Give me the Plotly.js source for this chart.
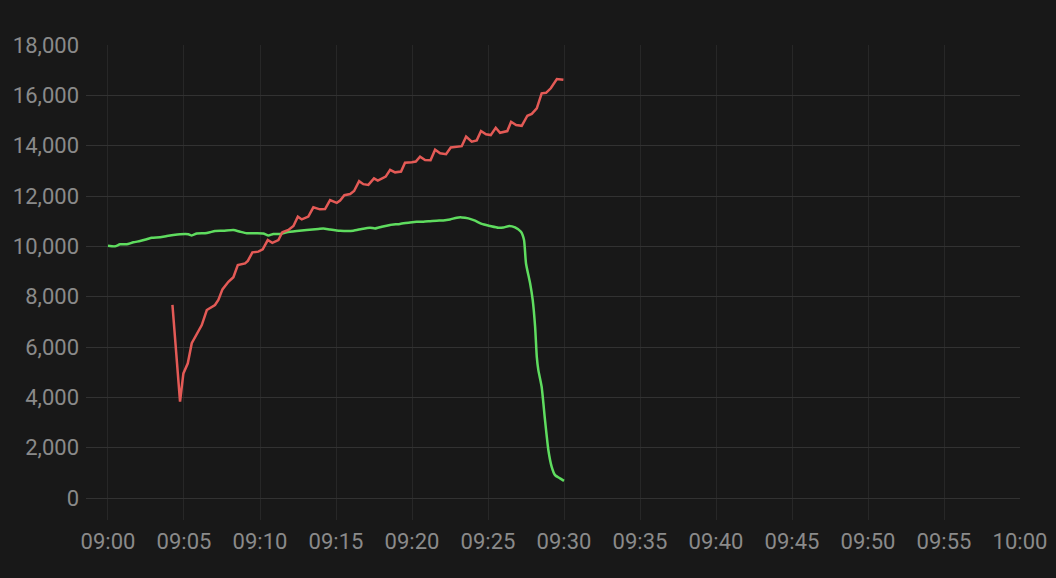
<!DOCTYPE html>
<html>
<head>
<meta charset="utf-8">
<script src="https://cdn.plot.ly/plotly-3.0.1.min.js"></script>
<style>
  html, body { margin: 0; padding: 0; background: #181818; }
  #chart { width: 1056px; height: 578px; }
</style>
</head>
<body>
<div id="chart"></div>
<script>
// Minutes after 09:00 and values for each series
var redMinutes = [4.24, 4.74, 4.96, 5.25, 5.51, 5.84, 6.17, 6.50, 7.04, 7.26, 7.53, 7.92, 8.25, 8.54, 9.02, 9.20, 9.50, 9.89, 10.18, 10.51, 10.81, 11.21, 11.47, 11.87, 12.20, 12.49, 12.75, 13.18, 13.51, 13.94, 14.28, 14.61, 15.05, 15.27, 15.55, 15.93, 16.19, 16.52, 16.80, 17.13, 17.50, 17.75, 18.01, 18.27, 18.56, 18.89, 19.28, 19.54, 19.99, 20.25, 20.53, 20.86, 21.22, 21.52, 21.85, 22.24, 22.55, 22.95, 23.27, 23.56, 23.93, 24.26, 24.54, 24.87, 25.18, 25.51, 25.79, 26.27, 26.52, 26.85, 27.22, 27.59, 27.88, 28.21, 28.53, 28.82, 29.13, 29.53, 29.96];
var redValues = [7670, 3830, 4950, 5350, 6150, 6540, 6870, 7470, 7670, 7870, 8290, 8590, 8770, 9260, 9320, 9420, 9760, 9790, 9880, 10250, 10140, 10250, 10560, 10650, 10810, 11180, 11070, 11180, 11550, 11470, 11480, 11840, 11730, 11820, 12030, 12080, 12200, 12590, 12470, 12440, 12700, 12610, 12700, 12770, 13040, 12940, 12970, 13320, 13340, 13370, 13560, 13430, 13420, 13840, 13700, 13660, 13930, 13950, 13980, 14360, 14160, 14210, 14580, 14450, 14420, 14710, 14510, 14580, 14950, 14820, 14790, 15190, 15260, 15480, 16080, 16100, 16280, 16650, 16620];

var greenMinutes = [0.00, 0.46, 0.79, 1.23, 1.67, 2.11, 2.55, 2.88, 3.43, 3.87, 4.30, 4.74, 5.29, 5.51, 5.84, 6.39, 6.71, 7.04, 7.59, 8.25, 8.69, 9.13, 9.79, 10.22, 10.55, 10.88, 11.32, 11.76, 12.42, 13.07, 13.84, 14.17, 14.61, 15.27, 16.14, 16.69, 17.24, 17.57, 18.01, 18.56, 19.21, 19.87, 20.31, 20.75, 21.19, 21.63, 22.06, 22.50, 22.95, 23.27, 23.71, 24.15, 24.59, 25.14, 25.68, 26.01, 26.41, 26.78, 27.17, 27.37, 27.50, 27.77, 27.94, 28.10, 28.21, 28.31, 28.53, 28.75, 28.97, 29.19, 29.41, 29.74, 30.00];
var greenValues = [10020, 10000, 10080, 10080, 10160, 10210, 10280, 10340, 10360, 10410, 10450, 10480, 10480, 10430, 10510, 10520, 10560, 10610, 10620, 10650, 10580, 10520, 10520, 10510, 10430, 10490, 10490, 10560, 10610, 10650, 10690, 10710, 10670, 10620, 10620, 10690, 10740, 10710, 10780, 10850, 10890, 10950, 10980, 10980, 11000, 11020, 11030, 11070, 11140, 11150, 11110, 11020, 10890, 10810, 10740, 10750, 10810, 10750, 10580, 10250, 9320, 8530, 7870, 6800, 5610, 5090, 4420, 3100, 1910, 1240, 910, 780, 680];

var xTickStep = 5;          // minutes
var yTickStep = 2000;

function toTime(m) {
  var base = Date.UTC(2024, 0, 1, 9, 0, 0);
  var d = new Date(base + Math.round(m * 60000));
  return d.toISOString().replace('T', ' ').replace('Z', '');
}

var red = {
  x: redMinutes.map(toTime), y: redValues, type: 'scatter', mode: 'lines',
  line: { color: '#e35a56', width: 2.5 }, hoverinfo: 'skip'
};
var green = {
  x: greenMinutes.map(toTime), y: greenValues, type: 'scatter', mode: 'lines',
  line: { color: '#5fdc5f', width: 2.5, shape: 'spline', smoothing: 0.5 }, hoverinfo: 'skip'
};

var layout = {
  width: 1056, height: 578,
  paper_bgcolor: '#181818', plot_bgcolor: '#181818',
  margin: { l: 86, r: 36, t: 45, b: 58 },
  showlegend: false,
  font: { family: 'Roboto, sans-serif', size: 22, color: '#8a8a8a' },
  xaxis: {
    type: 'date',
    range: [toTime(-1.447), toTime(60)],
    tick0: toTime(0), dtick: xTickStep * 60000,
    tickformat: '%H:%M',
    showgrid: true, gridcolor: '#272727', gridwidth: 1,
    zeroline: false, showline: false, ticks: '',
    ticklabelstandoff: 6,
    tickfont: { family: 'Roboto, sans-serif', size: 22, color: '#8a8a8a' }
  },
  yaxis: {
    range: [-874, 18000],
    tick0: 0, dtick: yTickStep,
    tickformat: ',d',
    showgrid: true, gridcolor: '#323232', gridwidth: 1,
    zeroline: false, showline: false, ticks: '',
    ticklabelstandoff: 6,
    tickfont: { family: 'Roboto, sans-serif', size: 22, color: '#8a8a8a' }
  },
  hovermode: false
};

Plotly.newPlot('chart', [green, red], layout, { displayModeBar: false, staticPlot: true });
</script>
</body>
</html>
